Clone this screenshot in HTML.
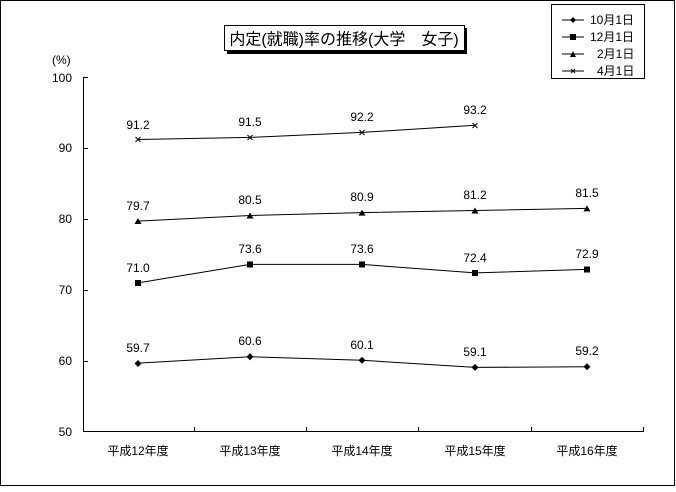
<!DOCTYPE html>
<html><head><meta charset="utf-8"><style>
body{margin:0;background:#fff}
svg text{font-family:"Liberation Sans","Noto Sans CJK JP",sans-serif;font-size:12px;fill:#000}
</style></head><body>
<svg width="676" height="487" xmlns="http://www.w3.org/2000/svg">
<rect x="0.5" y="0.5" width="674" height="485" fill="#fff" stroke="#000"/>
<rect x="227" y="28" width="240" height="26" fill="#000"/>
<rect x="224.5" y="25.5" width="240" height="25" fill="#fff" stroke="#000"/>
<text x="344" y="44.5" text-anchor="middle" style="font-size:16px">内定(就職)率の推移(大学　女子)</text>
<rect x="551.5" y="4.5" width="93" height="74" fill="#fff" stroke="#000"/>
<g stroke="#000" stroke-width="1">
<line x1="562" y1="20" x2="584" y2="20"/><line x1="562" y1="37" x2="584" y2="37"/>
<line x1="562" y1="54" x2="584" y2="54"/><line x1="562" y1="71" x2="584" y2="71"/>
</g>
<path d="M573 17l3 3-3 3-3-3z"/><rect x="570" y="34" width="6" height="6"/>
<path d="M573 51l3 6h-6z"/><path d="M571 69l4 4M575 69l-4 4" stroke="#000"/>
<text x="590" y="24">10月1日</text><text x="590" y="41">12月1日</text>
<text x="597" y="58">2月1日</text><text x="597" y="75">4月1日</text>
<text x="52" y="64">(%)</text>
<g stroke="#000" stroke-width="1">
<line x1="83.5" y1="77" x2="83.5" y2="432"/>
<line x1="83" y1="431.5" x2="644" y2="431.5"/>
<line x1="83" y1="77.5" x2="88" y2="77.5"/><line x1="83" y1="148.5" x2="88" y2="148.5"/>
<line x1="83" y1="219.5" x2="88" y2="219.5"/><line x1="83" y1="290.5" x2="88" y2="290.5"/>
<line x1="83" y1="361.5" x2="88" y2="361.5"/>
<line x1="194.5" y1="427" x2="194.5" y2="432"/><line x1="306.5" y1="427" x2="306.5" y2="432"/>
<line x1="418.5" y1="427" x2="418.5" y2="432"/><line x1="531.5" y1="427" x2="531.5" y2="432"/>
<line x1="643.5" y1="427" x2="643.5" y2="432"/>
</g>
<g text-anchor="end"><text x="72" y="82">100</text><text x="72" y="152">90</text><text x="72" y="223">80</text><text x="72" y="294">70</text><text x="72" y="365">60</text><text x="72" y="436">50</text></g>
<g text-anchor="middle"><text x="138" y="455">平成12年度</text><text x="250" y="455">平成13年度</text><text x="362" y="455">平成14年度</text><text x="475" y="455">平成15年度</text><text x="587" y="455">平成16年度</text></g>
<g fill="none" stroke="#000">
<polyline points="138,363.1 250,356.7 362,360.3 475,367.4 587,366.7"/>
<polyline points="138,282.9 250,264.4 362,264.4 475,272.9 587,269.4"/>
<polyline points="138,221.1 250,215.5 362,212.6 475,210.5 587,208.4"/>
<polyline points="138,139.5 250,137.4 362,132.4 475,125.3"/>
</g>
<g>
<path d="M138 360l3.5 3.5-3.5 3.5-3.5-3.5zM250 353.2l3.5 3.5-3.5 3.5-3.5-3.5zM362 356.8l3.5 3.5-3.5 3.5-3.5-3.5zM475 363.9l3.5 3.5-3.5 3.5-3.5-3.5zM587 363.2l3.5 3.5-3.5 3.5-3.5-3.5z"/>
<rect x="135" y="280" width="6" height="6"/><rect x="247" y="261.5" width="6" height="6"/><rect x="359" y="261.5" width="6" height="6"/><rect x="472" y="270" width="6" height="6"/><rect x="584" y="266.5" width="6" height="6"/>
<path d="M138 218l3.5 6h-7zM250 212.5l3.5 6h-7zM362 209.6l3.5 6h-7zM475 207.5l3.5 6h-7zM587 205.4l3.5 6h-7z"/>
<path stroke="#000" d="M135.5 137l5 5M140.5 137l-5 5M247.5 135l5 5M252.5 135l-5 5M359.5 130l5 5M364.5 130l-5 5M472.5 123l5 5M477.5 123l-5 5"/>
</g>
<g text-anchor="middle">
<text x="138" y="352">59.7</text><text x="250" y="345">60.6</text><text x="362" y="349">60.1</text><text x="475" y="356">59.1</text><text x="587" y="355">59.2</text>
<text x="138" y="272">71.0</text><text x="250" y="253">73.6</text><text x="362" y="253">73.6</text><text x="475" y="262">72.4</text><text x="587" y="258">72.9</text>
<text x="138" y="210">79.7</text><text x="250" y="204">80.5</text><text x="362" y="201">80.9</text><text x="475" y="199">81.2</text><text x="587" y="197">81.5</text>
<text x="138" y="129">91.2</text><text x="250" y="126">91.5</text><text x="362" y="121">92.2</text><text x="475" y="114">93.2</text>
</g>
</svg>
</body></html>
